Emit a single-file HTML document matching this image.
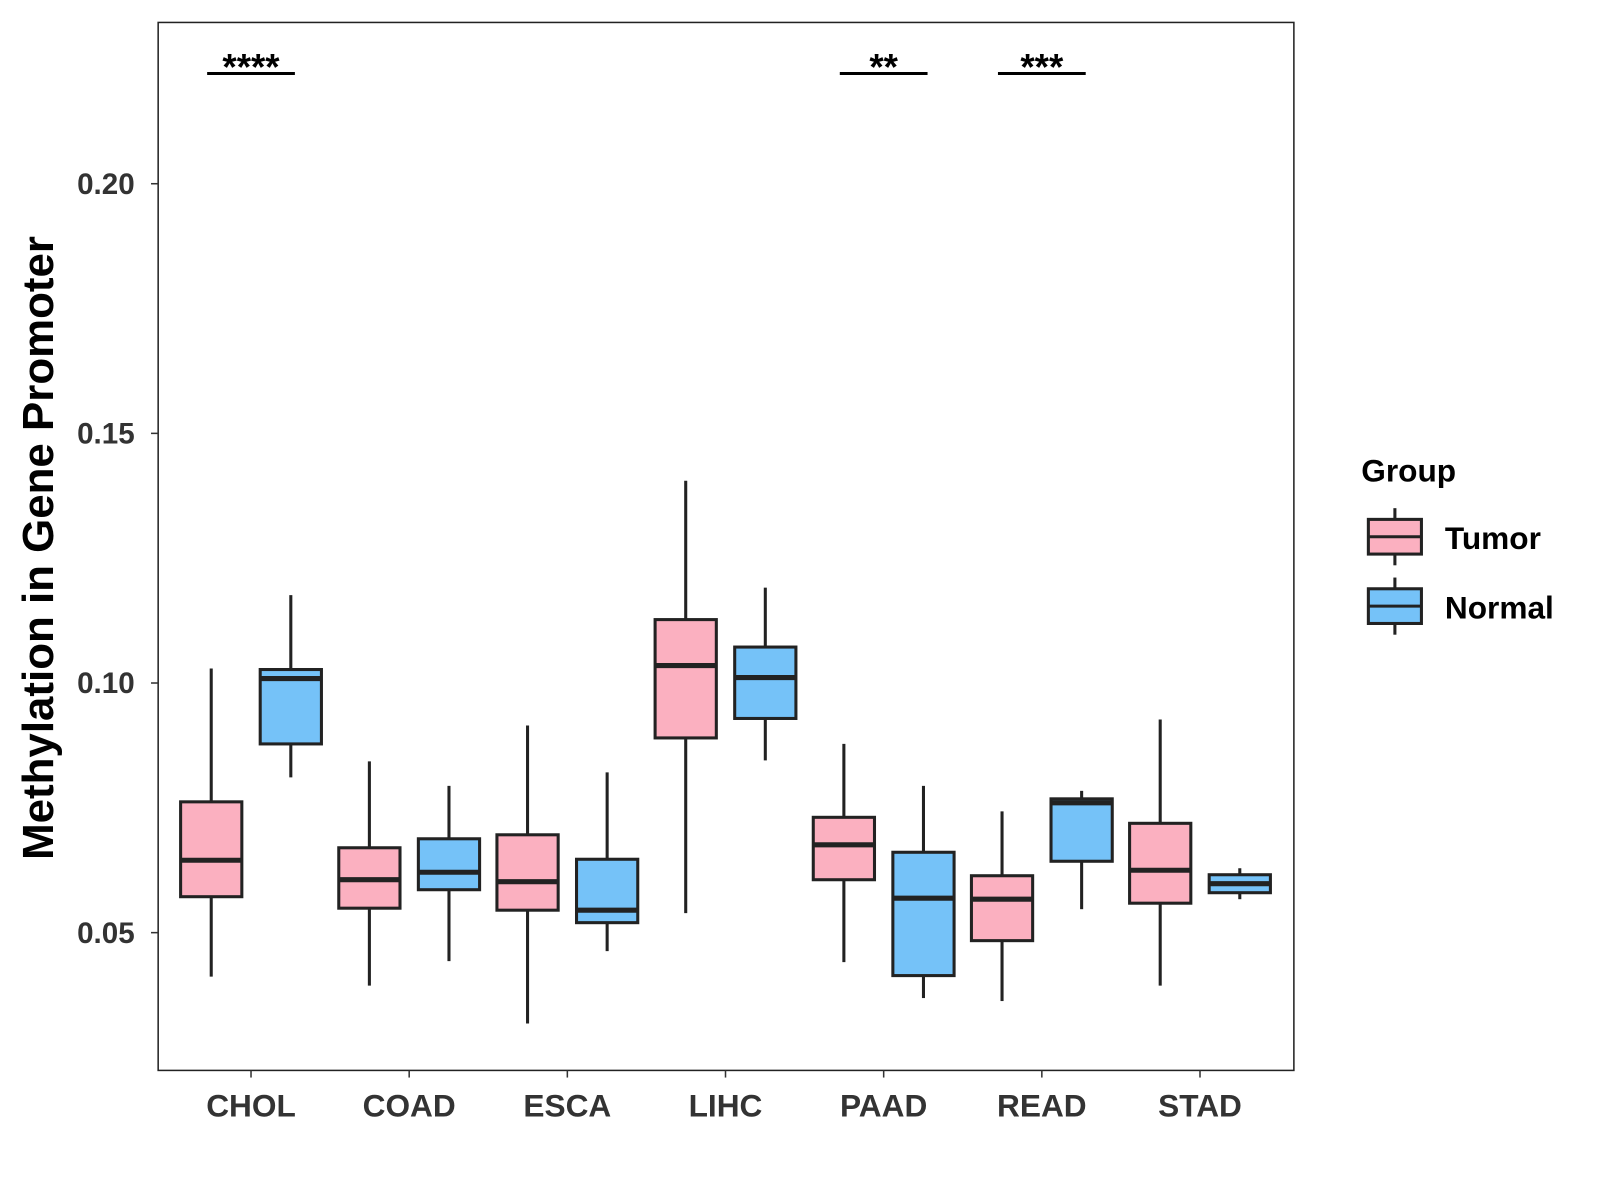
<!DOCTYPE html>
<html><head><meta charset="utf-8"><style>
html,body{margin:0;padding:0;background:#fff}
svg{display:block;font-family:"Liberation Sans",sans-serif}
</style></head><body>
<svg id="chart" width="1600" height="1200" viewBox="0 0 1568 1176" xmlns="http://www.w3.org/2000/svg">
<rect x="0" y="0" width="1568" height="1176" fill="#fff"/>
<g id="plot"></g>
</svg>
<script>
const categories = ["CHOL","COAD","ESCA","LIHC","PAAD","READ","STAD"];
// [low, q1, median, q3, high]
const tumorStats = [
 [0.0412,0.0572,0.0645,0.0762,0.1029],
 [0.0394,0.0549,0.0606,0.0670,0.0843],
 [0.0318,0.0545,0.0602,0.0696,0.0915],
 [0.0539,0.0890,0.1035,0.1127,0.1405],
 [0.0441,0.0606,0.0676,0.0731,0.0878],
 [0.0363,0.0484,0.0567,0.0614,0.0743],
 [0.0394,0.0559,0.0625,0.0719,0.0927]
];
const normalStats = [
 [0.0811,0.0878,0.1009,0.1027,0.1176],
 [0.0443,0.0586,0.0621,0.0688,0.0794],
 [0.0463,0.0520,0.0545,0.0647,0.0821],
 [0.0845,0.0929,0.1011,0.1072,0.1191],
 [0.0369,0.0414,0.0569,0.0661,0.0794],
 [0.0547,0.0643,0.0760,0.0768,0.0784],
 [0.0567,0.0580,0.0598,0.0616,0.0629]
];
const yTicks = [0.05,0.10,0.15,0.20];
const yTickLabels = ["0.05","0.10","0.15","0.20"];
const sigCategories = ["CHOL","PAAD","READ"];
const sigLabels = ["****","**","***"];

const NS="http://www.w3.org/2000/svg";
const g=document.getElementById('plot');
const L=155,R=1268,T=22,B=1049;
function y(v){return 914-(v-0.05)*4893;}
function x(i){return 246+i*155;}
function mk(tag,attrs,parent){const e=document.createElementNS(NS,tag);for(const k in attrs)e.setAttribute(k,attrs[k]);(parent||g).appendChild(e);return e;}

const panel=mk('rect',{x:L,y:T,width:R-L,height:B-T,fill:'none',stroke:'#222','stroke-width':1.5});



yTicks.forEach((v,i)=>{
 const t=mk('line',{x1:L-7,x2:L,y1:y(v),y2:y(v),stroke:'#333','stroke-width':1.5});
 
 
 const lb=mk('text',{x:L-23,y:y(v)+10,'text-anchor':'end','font-size':29,'font-weight':'bold',fill:'#333'});
 lb.textContent=yTickLabels[i];
 
 
});
categories.forEach((c,i)=>{
 const t=mk('line',{x1:x(i),x2:x(i),y1:B,y2:B+7,stroke:'#333','stroke-width':1.5});
 
 
 const lb=mk('text',{x:x(i),y:B+45,'text-anchor':'middle','font-size':31,'font-weight':'bold',fill:'#333'});
 lb.textContent=c;
 
 
});

function box(cx,s,fill,name){
 const grp=mk('g',{});
 
 
 mk('line',{x1:cx,x2:cx,y1:y(s[0]),y2:y(s[1]),stroke:'#222','stroke-width':3},grp);
 mk('line',{x1:cx,x2:cx,y1:y(s[3]),y2:y(s[4]),stroke:'#222','stroke-width':3},grp);
 mk('rect',{x:cx-30,y:y(s[3]),width:60,height:y(s[1])-y(s[3]),fill:fill,stroke:'#222','stroke-width':3},grp);
 mk('line',{x1:cx-30,x2:cx+30,y1:y(s[2]),y2:y(s[2]),stroke:'#222','stroke-width':5},grp);
}
categories.forEach((c,i)=>{
 box(x(i)-39,tumorStats[i],'#FBB0C0','box-tumor-'+c.toLowerCase());
 box(x(i)+39,normalStats[i],'#75C2F8','box-normal-'+c.toLowerCase());
});

sigCategories.forEach((c,k)=>{
 const i=categories.indexOf(c);
 const l=mk('line',{x1:x(i)-43,x2:x(i)+43,y1:72,y2:72,stroke:'#000','stroke-width':3});
 
 
 const t=mk('text',{x:x(i),y:78,'text-anchor':'middle','font-size':36,'font-weight':'bold',fill:'#000'});
 t.textContent=sigLabels[k];
 
 
});
</script>
<svg style="position:absolute;left:0;top:0" width="1600" height="1200" viewBox="0 0 1568 1176" xmlns="http://www.w3.org/2000/svg">
<text transform="translate(52,537) rotate(-90)" text-anchor="middle" font-size="43" font-weight="bold" fill="#000">Methylation in Gene Promoter</text>
<g>
<text x="1334" y="472" font-size="31" font-weight="bold">Group</text>
<g>
<line x1="1367" x2="1367" y1="498" y2="554" stroke="#222" stroke-width="3"/>
<rect x="1341" y="509" width="52" height="34" fill="#FBB0C0" stroke="#222" stroke-width="3"/>
<line x1="1341" x2="1393" y1="526" y2="526" stroke="#222" stroke-width="3"/>
<text x="1416" y="538" font-size="31" font-weight="bold">Tumor</text>
</g>
<g>
<line x1="1367" x2="1367" y1="566" y2="622" stroke="#222" stroke-width="3"/>
<rect x="1341" y="577" width="52" height="34" fill="#75C2F8" stroke="#222" stroke-width="3"/>
<line x1="1341" x2="1393" y1="594" y2="594" stroke="#222" stroke-width="3"/>
<text x="1416" y="606" font-size="31" font-weight="bold">Normal</text>
</g>
</g>
</svg>
</body></html>
